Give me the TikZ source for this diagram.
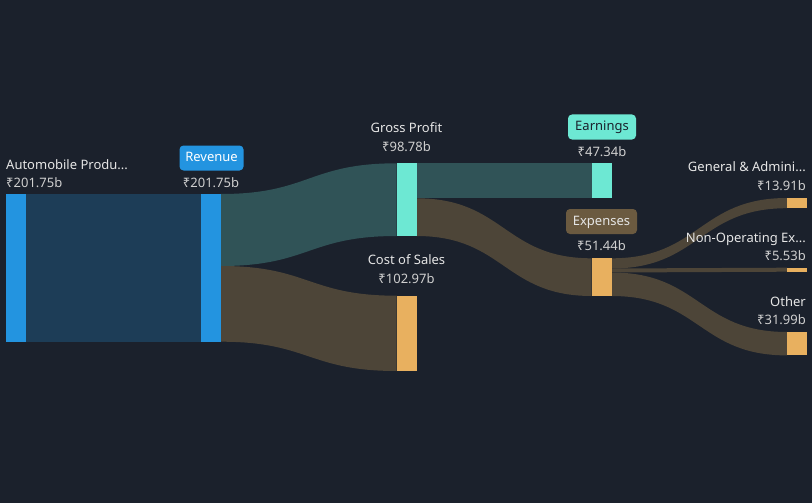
\documentclass[tikz,border=0pt]{standalone}
\usepackage{fontspec}
\setmainfont{Noto Sans}
\definecolor{bg}{HTML}{1B212C}
\definecolor{barblue}{HTML}{2394E0}
\definecolor{linkblue}{HTML}{1D3D57}
\definecolor{barteal}{HTML}{6DE8D3}
\definecolor{linkteal}{HTML}{305357}
\definecolor{linkbrown}{HTML}{4D4538}
\definecolor{barorange}{HTML}{E8B05F}
\definecolor{badgebrown}{HTML}{6B5A40}
\definecolor{labelgray}{HTML}{E6E6E6}
\definecolor{valuegray}{HTML}{CFCFCF}
% band from (x1,top1..bot1) to (x2,top2..bot2)
\newcommand\band[7]{%
  \fill[#7] (#1,#2) .. controls ({(#1+#4)/2},#2) and ({(#1+#4)/2},#5) .. (#4,#5)
    -- (#4,#6) .. controls ({(#1+#4)/2},#6) and ({(#1+#4)/2},#3) .. (#1,#3) -- cycle;}
\begin{document}
\begin{tikzpicture}[x=1pt,y=-1pt,
  lbl/.style={text=labelgray, font=\fontsize{13}{16}\selectfont, inner sep=0pt, anchor=base},
  val/.style={lbl, text=valuegray},
  badge/.style={lbl, anchor=center, rounded corners=4pt, text height=10pt, text depth=3pt,
    minimum height=25pt}]
\fill[bg] (0,0) rectangle (812,503);
\useasboundingbox (0,0) rectangle (812,503);
% links
\fill[linkblue] (26,194) rectangle (201,341.7);
\band{221}{194}{266}{396.5}{163.3}{236}{linkteal}
\band{221}{266}{341.7}{396.5}{295.7}{371}{linkbrown}
\fill[linkteal] (416.5,163.3) rectangle (591.7,198.3);
\band{416.5}{198.3}{236}{591.7}{258.3}{296}{linkbrown}
\band{611.7}{258.3}{268.5}{787}{198}{208.2}{linkbrown}
\band{611.7}{268.5}{272.5}{787}{267.7}{271.7}{linkbrown}
\band{611.7}{272.5}{296}{787}{332}{355.4}{linkbrown}
% bars
\fill[barblue] (6,194) rectangle (26,341.7);
\fill[barblue] (201,194) rectangle (221,341.7);
\fill[barteal] (396.5,163.3) rectangle (416.5,236);
\fill[barorange] (396.5,295.7) rectangle (416.5,371);
\fill[barteal] (591.7,163.3) rectangle (611.7,198.3);
\fill[barorange] (591.7,258.3) rectangle (611.7,296);
\fill[barorange] (787,198) rectangle (806.5,208.2);
\fill[barorange] (787,267.7) rectangle (806.5,271.7);
\fill[barorange] (787,332) rectangle (806.5,355.4);
% labels
\node[lbl, anchor=base west] (auto) at (6,169) {Automobile Produ...};
\node[val, anchor=base west] (autov) at (6,187) {₹201.75b};
\node[badge, fill=barblue, text=white, minimum width=64pt] (rev) at (211.5,158) {Revenue};
\node[val] (revv) at (211,187) {₹201.75b};
\node[lbl] (gp) at (406.5,132) {Gross Profit};
\node[val] (gpv) at (406.5,151) {₹98.78b};
\node[lbl] (cos) at (406.5,264) {Cost of Sales};
\node[val] (cosv) at (406.5,283) {₹102.97b};
\node[badge, fill=barteal, text=bg, minimum width=68pt] (earn) at (602,127) {Earnings};
\node[val] (earnv) at (602,157) {₹47.34b};
\node[badge, fill=badgebrown, text=labelgray, minimum width=71pt] (exp) at (601.5,221.5) {Expenses};
\node[val] (expv) at (601.5,250.5) {₹51.44b};
\node[lbl, anchor=base east] (ga) at (806,171.7) {General \& Admini...};
\node[val, anchor=base east] (gav) at (806,190) {₹13.91b};
\node[lbl, anchor=base east] (nonop) at (806,242.3) {Non-Operating Ex...};
\node[val, anchor=base east] (nonopv) at (806,260.7) {₹5.53b};
\node[lbl, anchor=base east] (oth) at (806,306) {Other};
\node[val, anchor=base east] (othv) at (806,324.3) {₹31.99b};
\end{tikzpicture}
\end{document}
